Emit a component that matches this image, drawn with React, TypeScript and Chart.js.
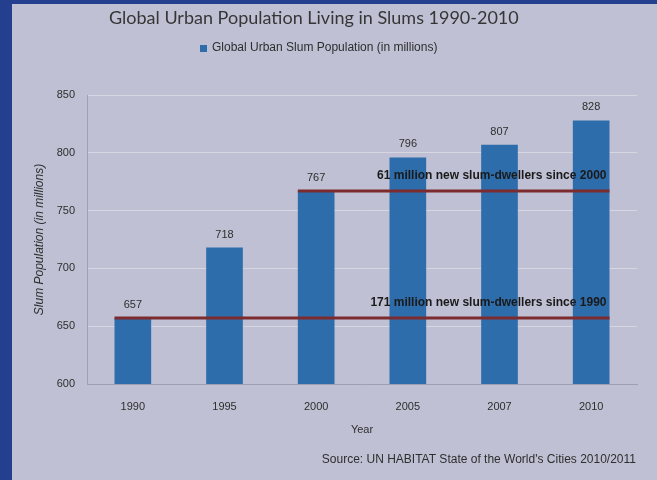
import React, { useEffect, useRef } from "react";
import { Chart, registerables } from "chart.js";

Chart.register(...registerables);

const years = ["1990", "1995", "2000", "2005", "2007", "2010"];
const slumPop = [657, 718, 767, 796, 807, 828];
const yMin = 600;
const yMax = 850;
const yStep = 50;
const refLineValues = [767, 657];
const refLineStartIdx = [2, 0];
const refLineLabels = [
  "61 million new slum-dwellers since 2000",
  "171 million new slum-dwellers since 1990",
];
const chartTitle = "Global Urban Population Living in Slums 1990-2010";
const seriesName = "Global Urban Slum Population (in millions)";
const yTitle = "Slum Population (in millions)";
const xTitle = "Year";
const sourceNote = "Source: UN HABITAT State of the World's Cities 2010/2011";

const W = 657;
const H = 480;
const PANEL = "#bfc0d3";
const FRAME = "#233f8d";
const BAR = "#2e6dab";
const LINE = "#7c2b2e";
const TEXT = "#2e2e2e";
const SANS = '"Liberation Sans", Arial, sans-serif';

const decor = {
  id: "decor",
  beforeDraw(chart: any) {
    const ctx = chart.ctx;
    ctx.save();
    ctx.fillStyle = PANEL;
    ctx.fillRect(0, 0, W, H);
    ctx.fillStyle = FRAME;
    ctx.fillRect(0, 0, 12, H);
    ctx.fillRect(0, 0, W, 4);
    ctx.restore();
  },
  afterDatasetsDraw(chart: any) {
    const ctx = chart.ctx;
    const meta = chart.getDatasetMeta(0);
    const ys = chart.scales.y;
    ctx.save();
    // value labels
    ctx.fillStyle = TEXT;
    ctx.font = `11px ${SANS}`;
    ctx.textAlign = "center";
    ctx.textBaseline = "middle";
    meta.data.forEach((bar: any, i: number) => {
      ctx.fillText(String(slumPop[i]), bar.x, bar.y - 13);
    });
    // reference lines
    refLineValues.forEach((v, i) => {
      const start = meta.data[refLineStartIdx[i]];
      const end = meta.data[meta.data.length - 1];
      const x0 = start.x - start.width / 2;
      const x1 = end.x + end.width / 2;
      const py = ys.getPixelForValue(v);
      ctx.strokeStyle = LINE;
      ctx.lineWidth = 3;
      ctx.beginPath();
      ctx.moveTo(x0, py);
      ctx.lineTo(x1, py);
      ctx.stroke();
      ctx.fillStyle = "#1a1a1a";
      ctx.font = `bold 12px ${SANS}`;
      ctx.textAlign = "right";
      ctx.textBaseline = "middle";
      ctx.fillText(refLineLabels[i], x1 - 3, py - 15, i === 0 ? 237 : 242);
    });
    ctx.restore();
  },
  afterDraw(chart: any) {
    const ctx = chart.ctx;
    ctx.save();
    // title
    ctx.fillStyle = "#363636";
    ctx.font = '18px Lato, "Open Sans", sans-serif';
    ctx.textAlign = "left";
    ctx.textBaseline = "middle";
    ctx.fillText(chartTitle, 109, 18, 415);
    // legend
    ctx.fillStyle = BAR;
    ctx.fillRect(200, 45, 7, 7);
    ctx.fillStyle = TEXT;
    ctx.font = `12px ${SANS}`;
    ctx.fillText(seriesName, 212, 48, 255);
    // source
    ctx.textAlign = "right";
    ctx.fillText(sourceNote, 636, 460, 328);
    ctx.restore();
  },
};

export default function App() {
  const ref = useRef<HTMLCanvasElement | null>(null);
  useEffect(() => {
    if (!ref.current) return;
    const chart = new Chart(ref.current, {
      type: "bar",
      data: {
        labels: years,
        datasets: [
          {
            label: seriesName,
            data: slumPop,
            backgroundColor: BAR,
            borderWidth: 0,
            barPercentage: 0.4,
            categoryPercentage: 1,
          },
        ],
      },
      options: {
        responsive: false,
        animation: false,
        layout: { padding: { left: 12, top: 95, right: 20, bottom: 0 } },
        plugins: {
          legend: { display: false },
          title: { display: false },
          tooltip: { enabled: false },
        },
        scales: {
          x: {
            grid: { display: false, drawTicks: false },
            border: { display: true, color: "#9d9fb2" },
            ticks: { padding: 16, color: TEXT, font: { family: SANS, size: 11 } },
            title: {
              display: true,
              text: xTitle,
              color: TEXT,
              font: { family: SANS, size: 11 },
              padding: { top: 0, bottom: 43 },
            },
            afterFit: (s: any) => {
              s.height = 96;
            },
          },
          y: {
            min: yMin,
            max: yMax,
            ticks: {
              stepSize: yStep,
              padding: 12,
              color: TEXT,
              font: { family: SANS, size: 11 },
            },
            grid: { color: "#d6d7e3", drawTicks: false, lineWidth: 1 },
            border: { display: true, color: "#9d9fb2" },
            title: {
              display: true,
              text: yTitle,
              color: TEXT,
              font: { family: SANS, size: 12, style: "italic" },
              padding: { top: 20, bottom: 0 },
            },
            afterFit: (s: any) => {
              s.width = 75;
            },
          },
        },
      },
      plugins: [decor],
    });
    return () => chart.destroy();
  }, []);
  return (
    <div style={{ position: "fixed", left: 0, top: 0, width: W, height: H }}>
      <canvas ref={ref} width={W} height={H} style={{ width: W, height: H, display: "block" }} />
    </div>
  );
}
